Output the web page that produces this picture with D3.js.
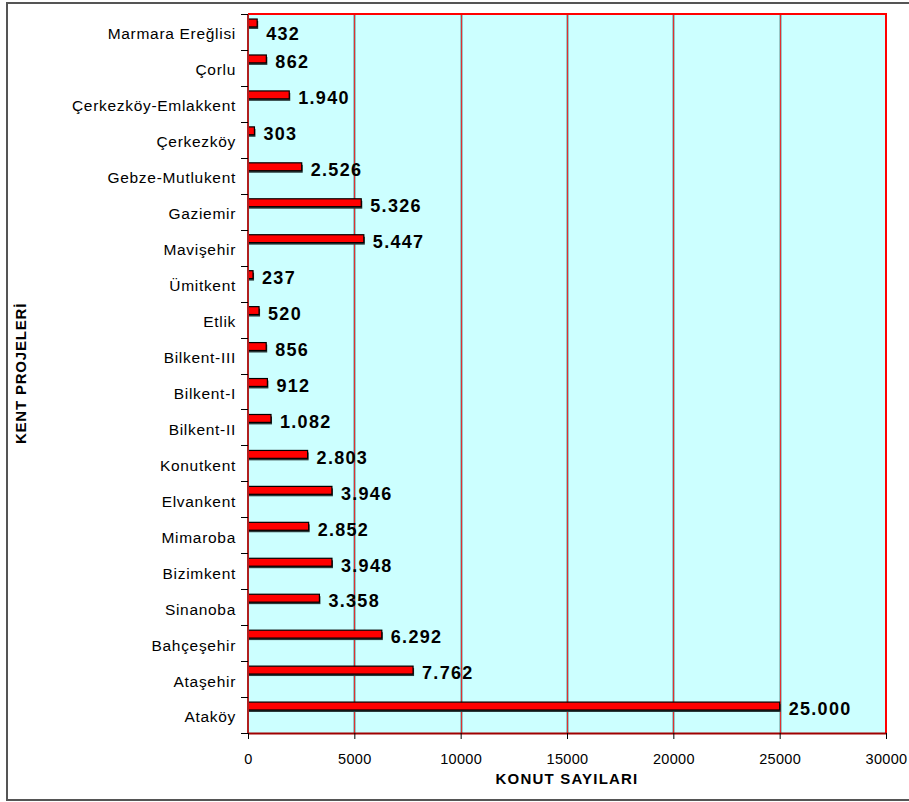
<!DOCTYPE html>
<html>
<head>
<meta charset="utf-8">
<script src="https://cdn.jsdelivr.net/npm/d3@7/dist/d3.min.js"></script>
<style>
html,body{margin:0;padding:0;background:#fff;}
svg{display:block;}
text{font-family:"Liberation Sans",Arial,sans-serif;}
</style>
</head>
<body>
<svg id="chart" width="909" height="802"></svg>
<script>
const categories = ["Marmara Ereğlisi","Çorlu","Çerkezköy-Emlakkent","Çerkezköy","Gebze-Mutlukent","Gaziemir","Mavişehir","Ümitkent","Etlik","Bilkent-III","Bilkent-I","Bilkent-II","Konutkent","Elvankent","Mimaroba","Bizimkent","Sinanoba","Bahçeşehir","Ataşehir","Ataköy"];
const values = [432,862,1940,303,2526,5326,5447,237,520,856,912,1082,2803,3946,2852,3948,3358,6292,7762,25000];
const xTicks = [0,5000,10000,15000,20000,25000,30000];
const xTitle = "KONUT SAYILARI";
const yTitle = "KENT PROJELERİ";

(function(){
const svg = d3.select("#chart");
const pL = 248, pR = 886, pT = 14, pB = 733;

// outer frame
svg.append("rect").attr("x",7).attr("y",3).attr("width",930).attr("height",797)
  .attr("fill","none").attr("stroke","#555").attr("stroke-width",2);

const x = d3.scaleLinear().domain([0,30000]).range([pL,pR]);
const y = d3.scaleBand().domain(categories).range([pT,pB]).paddingInner(0).paddingOuter(0);
const step = y.step();

// plot background
svg.append("rect").attr("x",pL).attr("y",pT).attr("width",pR-pL).attr("height",pB-pT)
  .attr("fill","#ccffff");

// gridlines
const grid = svg.append("g");
const gv = xTicks.filter(d=>d>0 && d<30000);
grid.selectAll("line.g2").data(gv).join("line").attr("class","g2")
  .attr("x1",d=>Math.round(x(d))+0.5).attr("x2",d=>Math.round(x(d))+0.5)
  .attr("y1",pT).attr("y2",pB)
  .attr("stroke","#5f8f8f").attr("stroke-width",2);
grid.selectAll("line.g1").data(gv).join("line").attr("class","g1")
  .attr("x1",d=>Math.round(x(d))+0.5).attr("x2",d=>Math.round(x(d))+0.5)
  .attr("y1",pT).attr("y2",pB)
  .attr("stroke","#e03030").attr("stroke-width",1);

// plot border (top/right red)
svg.append("path")
  .attr("d",`M${pL},${pT}H${pR}V${pB}`)
  .attr("fill","none").attr("stroke","#ff0000").attr("stroke-width",2);

// bars
const barOff = step*0.14, barH = step*0.22;
const bars = svg.append("g");
bars.selectAll("rect.sh").data(values).join("rect").attr("class","sh")
  .attr("x",x(0)+1).attr("y",(d,i)=>y(categories[i])+barOff+2)
  .attr("width",d=>x(d)-x(0)).attr("height",barH)
  .attr("fill","#2a3a3a");
bars.selectAll("rect.b").data(values).join("rect").attr("class","b")
  .attr("x",x(0)).attr("y",(d,i)=>y(categories[i])+barOff)
  .attr("width",d=>x(d)-x(0)).attr("height",barH)
  .attr("fill","#ff0000").attr("stroke","#000").attr("stroke-width",1.2);

// value labels
const loc = d3.formatLocale({decimal:",",thousands:".",grouping:[3],currency:["",""]});
const fmt = loc.format(",d");
svg.append("g").selectAll("text").data(values).join("text")
  .attr("x",d=>x(d)+9)
  .attr("y",(d,i)=>Math.max(y(categories[i])+barOff+barH/2+3, 34))
  .attr("dy","0.35em")
  .attr("font-size",18).attr("font-weight","bold").attr("letter-spacing",1.3)
  .attr("fill","#000")
  .text(d=>fmt(d));

// y axis
const yAxis = svg.append("g").attr("transform",`translate(${pL},0)`);
yAxis.append("line").attr("x1",0).attr("x2",0).attr("y1",pT).attr("y2",pB)
  .attr("stroke","#b02020").attr("stroke-width",2);
yAxis.selectAll("line.t").data(categories.concat([null])).join("line").attr("class","t")
  .attr("x1",-7).attr("x2",0)
  .attr("y1",(d,i)=>Math.round(pT+i*step)+0.5).attr("y2",(d,i)=>Math.round(pT+i*step)+0.5)
  .attr("stroke","#000");
yAxis.selectAll("text").data(categories).join("text")
  .attr("x",-12).attr("y",d=>y(d)+step/2+2).attr("dy","0.35em")
  .attr("text-anchor","end").attr("font-size",15.5).attr("letter-spacing",0.7).attr("fill","#000")
  .text(d=>d);

// x axis
const xAxisG = svg.append("g").attr("transform",`translate(0,${pB})`)
  .call(d3.axisBottom(x).tickValues(xTicks).tickSize(6).tickSizeOuter(0).tickFormat(d3.format("d")));
xAxisG.select(".domain").attr("stroke","#a00000").attr("stroke-width",2);
xAxisG.selectAll(".tick line").attr("stroke","#000");
xAxisG.selectAll(".tick text").attr("font-size",14.5).attr("font-family","Liberation Sans, Arial, sans-serif")
  .attr("letter-spacing",0.3).attr("fill","#000").attr("y",21);

svg.append("text").attr("x",(pL+pR)/2).attr("y",784)
  .attr("text-anchor","middle").attr("font-size",15).attr("letter-spacing",1.2)
  .attr("font-weight","bold").text(xTitle);

svg.append("text").attr("transform",`translate(26,${(pT+pB)/2}) rotate(-90)`)
  .attr("text-anchor","middle").attr("font-size",15).attr("letter-spacing",0.8)
  .attr("font-weight","bold").text(yTitle);
})();
</script>
</body>
</html>
